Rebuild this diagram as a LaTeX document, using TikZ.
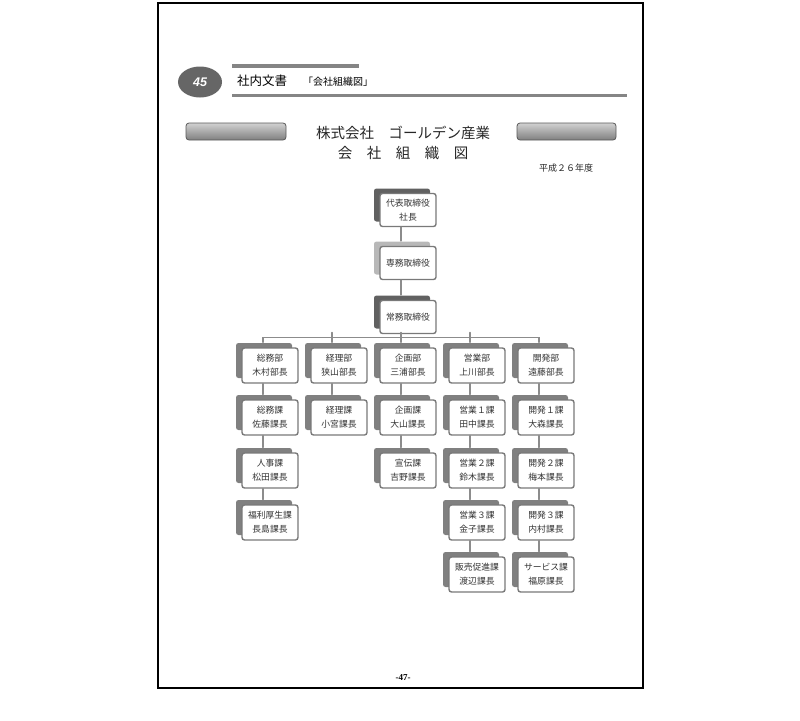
\documentclass[tikz,border=0pt]{standalone}
\usepackage{fontspec}
\newfontfamily\jp{Noto Sans CJK JP}
\newfontfamily\numfont{Liberation Sans}
\newfontfamily\pagefont{Liberation Serif}
\usetikzlibrary{shapes.geometric,shadows}

\begin{document}
\begin{tikzpicture}[x=1pt,y=-1pt,line cap=round,
  orgbox/.style={draw=gray!105,line width=1.4pt,rounded corners=2.5pt,fill=white,
    minimum width=56pt,minimum height=35pt,inner sep=0pt,align=center,text=black!80,
    font=\jp\fontsize{8.8}{14}\selectfont,
    drop shadow={shadow xshift=-6pt,shadow yshift=5pt,opacity=1,fill=#1}},
  orgbox/.default={black!50},
  topbox/.style={orgbox=#1,minimum height=33pt},
  link/.style={black!45,line width=1.8pt},
  bar/.style={fill=black!48},
  banner/.style={rounded corners=3pt,top color=black!18,bottom color=black!50,draw=black!65,line width=0.8pt}]
\useasboundingbox (0,0) rectangle (800,720);
\draw[line width=1.2pt] (158,3) rectangle (643,688);
\node[ellipse,fill=black!60,minimum width=44pt,minimum height=31pt,inner sep=0pt,text=white,font=\numfont\bfseries\itshape\fontsize{12.5}{12.5}\selectfont] (chapno) at (200,82) {45};
\fill[bar] (232,64) rectangle (359,67.5);
\fill[bar] (232,93.5) rectangle (627,97);
\node[anchor=west,inner sep=0pt,font=\jp\fontsize{12.5}{12.5}\selectfont] (doc) at (237,81) {社内文書};
\node[anchor=west,inner sep=0pt,font=\jp\fontsize{10}{10}\selectfont] (doctitle) at (303,81.5) {「会社組織図」};
\draw[banner] (186,123) rectangle (286,140);
\draw[banner] (517,123) rectangle (616,140);
\node[font=\jp\fontsize{14.5}{14.5}\selectfont,text=black!85] (company) at (403,133) {株式会社　ゴールデン産業};
\node[font=\jp\fontsize{14.5}{14.5}\selectfont,text=black!85] (chart) at (403,153) {会　社　組　織　図};
\node[anchor=west,inner sep=0pt,font=\jp\fontsize{9}{9}\selectfont,text=black!85] (year) at (539,168) {平成２６年度};
\node[font=\pagefont\bfseries\fontsize{9}{9}\selectfont] (pageno) at (403,678) {-47-};

\node[topbox=black!62] (daihyo) at (408,210) {代表取締役\\社長};
\node[topbox=black!28] (senmu) at (408,263) {専務取締役};
\node[topbox=black!62] (jomu) at (408,317) {常務取締役};

\node[orgbox] (somu) at (270,365.5) {総務部\\木村部長};
\node[orgbox] (keiri) at (339,365.5) {経理部\\狭山部長};
\node[orgbox] (kikaku) at (408,365.5) {企画部\\三浦部長};
\node[orgbox] (eigyo) at (477,365.5) {営業部\\上川部長};
\node[orgbox] (kaihatsu) at (546,365.5) {開発部\\遠藤部長};

\node[orgbox] (somuka) at (270,417.5) {総務課\\佐藤課長};
\node[orgbox] (jinji) at (270,470.5) {人事課\\松田課長};
\node[orgbox] (fukuri) at (270,522.5) {福利厚生課\\長島課長};
\node[orgbox] (keirika) at (339,417.5) {経理課\\小宮課長};
\node[orgbox] (kikakuka) at (408,417.5) {企画課\\大山課長};
\node[orgbox] (senden) at (408,470.5) {宣伝課\\吉野課長};
\node[orgbox] (eigyo1) at (477,417.5) {営業１課\\田中課長};
\node[orgbox] (eigyo2) at (477,470.5) {営業２課\\鈴木課長};
\node[orgbox] (eigyo3) at (477,522.5) {営業３課\\金子課長};
\node[orgbox] (hanbai) at (477,574.5) {販売促進課\\渡辺課長};
\node[orgbox] (kaihatsu1) at (546,417.5) {開発１課\\大森課長};
\node[orgbox] (kaihatsu2) at (546,470.5) {開発２課\\梅本課長};
\node[orgbox] (kaihatsu3) at (546,522.5) {開発３課\\内村課長};
\node[orgbox] (service) at (546,574.5) {サービス課\\福原課長};

\coordinate (bus) at (401,337.5);
\draw[link] ([xshift=-7pt]daihyo.south) -- ([xshift=-7pt,yshift=5pt]senmu.north);
\draw[link] ([xshift=-7pt]senmu.south) -- ([xshift=-7pt,yshift=5pt]jomu.north);
\draw[link] ([xshift=-7pt]jomu.south) -- (bus);
\draw[link,line width=1.4pt] ([xshift=-7pt,yshift=5pt]somu.north) |- (bus) -| ([xshift=-7pt,yshift=5pt]kaihatsu.north);
\draw[link,line width=1.4pt] ([xshift=-7pt,yshift=5pt]keiri.north) -- ([xshift=-7pt,yshift=5pt]keiri.north |- bus);
\draw[link,line width=1.4pt] ([xshift=-7pt,yshift=5pt]kikaku.north) -- ([xshift=-7pt,yshift=5pt]kikaku.north |- bus);
\draw[link,line width=1.4pt] ([xshift=-7pt,yshift=5pt]eigyo.north) -- ([xshift=-7pt,yshift=5pt]eigyo.north |- bus);
\draw[link] ([xshift=-7pt]somu.south) -- ([xshift=-7pt,yshift=5pt]somuka.north);
\draw[link] ([xshift=-7pt]somuka.south) -- ([xshift=-7pt,yshift=5pt]jinji.north);
\draw[link] ([xshift=-7pt]jinji.south) -- ([xshift=-7pt,yshift=5pt]fukuri.north);
\draw[link] ([xshift=-7pt]keiri.south) -- ([xshift=-7pt,yshift=5pt]keirika.north);
\draw[link] ([xshift=-7pt]kikaku.south) -- ([xshift=-7pt,yshift=5pt]kikakuka.north);
\draw[link] ([xshift=-7pt]kikakuka.south) -- ([xshift=-7pt,yshift=5pt]senden.north);
\draw[link] ([xshift=-7pt]eigyo.south) -- ([xshift=-7pt,yshift=5pt]eigyo1.north);
\draw[link] ([xshift=-7pt]eigyo1.south) -- ([xshift=-7pt,yshift=5pt]eigyo2.north);
\draw[link] ([xshift=-7pt]eigyo2.south) -- ([xshift=-7pt,yshift=5pt]eigyo3.north);
\draw[link] ([xshift=-7pt]eigyo3.south) -- ([xshift=-7pt,yshift=5pt]hanbai.north);
\draw[link] ([xshift=-7pt]kaihatsu.south) -- ([xshift=-7pt,yshift=5pt]kaihatsu1.north);
\draw[link] ([xshift=-7pt]kaihatsu1.south) -- ([xshift=-7pt,yshift=5pt]kaihatsu2.north);
\draw[link] ([xshift=-7pt]kaihatsu2.south) -- ([xshift=-7pt,yshift=5pt]kaihatsu3.north);
\draw[link] ([xshift=-7pt]kaihatsu3.south) -- ([xshift=-7pt,yshift=5pt]service.north);
\end{tikzpicture}
\end{document}
